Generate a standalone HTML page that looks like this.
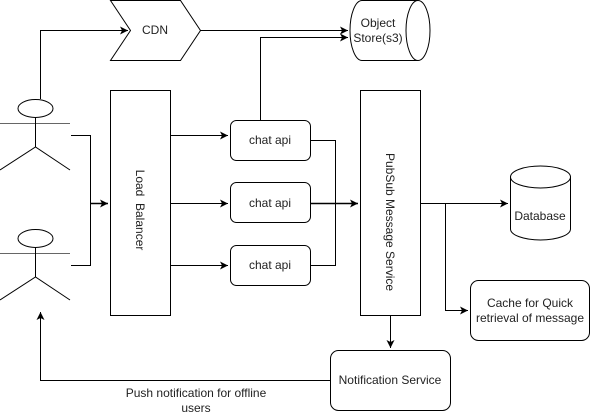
<!DOCTYPE html>
<html><head><meta charset="utf-8"><style>
html,body{margin:0;padding:0;background:#fff}
svg{display:block}
text{font-family:"Liberation Sans",Arial,sans-serif;font-size:12px;fill:#222}
</style></head><body>
<svg width="591" height="415" viewBox="0 0 591 415" xmlns="http://www.w3.org/2000/svg">
<defs><marker id="a" markerWidth="10" markerHeight="10" refX="8" refY="4" orient="auto" markerUnits="userSpaceOnUse"><path d="M0,0 L8,4 L0,8 L2,4 Z" fill="#000"/></marker></defs>
<g fill="none" stroke="#000" stroke-width="1">
<!-- CDN -->
<polygon points="110.5,0.5 180.5,0.5 200.5,30.5 180.5,60.5 110.5,60.5 130.5,30.5" fill="#fff"/>
<!-- object store -->
<path d="M362,0.5 L418,0.5 A12,30 0 0 1 418,60.5 L362,60.5 A12,30 0 0 1 362,0.5 Z" fill="#fff"/>
<path d="M418,0.5 A12,30 0 0 0 418,60.5"/>
<!-- actors -->
<ellipse cx="35.5" cy="108.5" rx="17.5" ry="9"/>
<line x1="0" y1="123.5" x2="70" y2="123.5" stroke="#666"/>
<line x1="35.5" y1="117.5" x2="35.5" y2="147"/>
<path d="M0,170 L35.5,147 L70,170"/>
<ellipse cx="35.5" cy="238.5" rx="17.5" ry="9"/>
<line x1="0" y1="253.5" x2="70" y2="253.5" stroke="#666"/>
<line x1="35.5" y1="247.5" x2="35.5" y2="277"/>
<path d="M0,300 L35.5,277 L70,300"/>
<!-- actor to CDN -->
<path d="M40.5,99 L40.5,30.5 L128,30.5" marker-end="url(#a)"/>
<!-- actors to LB -->
<path d="M71,135.5 L90.5,135.5 L90.5,265.5 L71,265.5"/>
<path d="M90.5,203.5 L108,203.5" marker-end="url(#a)" stroke-width="1.5"/>
<rect x="110.5" y="90.5" width="60" height="225" fill="#fff"/>
<!-- LB to chat -->
<path d="M170.5,135.5 L228,135.5" marker-end="url(#a)"/>
<path d="M170.5,203.5 L228,203.5" marker-end="url(#a)"/>
<path d="M170.5,265.5 L228,265.5" marker-end="url(#a)"/>
<rect x="230.5" y="120.5" width="80" height="40" rx="6" fill="#fff"/>
<rect x="230.5" y="182.5" width="80" height="40" rx="6" fill="#fff"/>
<rect x="230.5" y="245.5" width="80" height="40" rx="6" fill="#fff"/>
<!-- CDN/chat to store -->
<path d="M200.5,30.5 L348,30.5" marker-end="url(#a)"/>
<path d="M260.5,120 L260.5,37.5 L348,37.5" marker-end="url(#a)"/>
<!-- chat to pubsub -->
<path d="M310.5,140.5 L335.5,140.5 L335.5,265.5 L310.5,265.5"/>
<path d="M310.5,203.5 L358,203.5" marker-end="url(#a)" stroke-width="1.5"/>
<rect x="360.5" y="90.5" width="60" height="225" fill="#fff"/>
<!-- pubsub to db/cache -->
<path d="M420.5,203.5 L508,203.5" marker-end="url(#a)"/>
<path d="M445.5,203.5 L445.5,310.5 L468,310.5" marker-end="url(#a)"/>
<path d="M510.5,177 A30,11 0 0 1 570.5,177 L570.5,229 A30,11 0 0 1 510.5,229 Z" fill="#fff"/>
<path d="M510.5,177 A30,11 0 0 0 570.5,177"/>
<rect x="470.5" y="280.5" width="119" height="60" rx="8" fill="#fff"/>
<!-- pubsub to notification -->
<path d="M390.5,315.5 L390.5,348" marker-end="url(#a)"/>
<rect x="330.5" y="350.5" width="120" height="60" rx="8" fill="#fff"/>
<path d="M330.5,380.5 L40.5,380.5 L40.5,312" marker-end="url(#a)"/>
</g>
<text x="155" y="34" text-anchor="middle">CDN</text>
<text x="378" y="27" text-anchor="middle">Object</text>
<text x="378" y="42" text-anchor="middle">Store(s3)</text>
<text x="270" y="144" text-anchor="middle">chat api</text>
<text x="270" y="207" text-anchor="middle">chat api</text>
<text x="270" y="269" text-anchor="middle">chat api</text>
<text transform="translate(136,210) rotate(90)" text-anchor="middle" xml:space="preserve">Load  Balancer</text>
<text transform="translate(386,222) rotate(90)" text-anchor="middle">PubSub Message Service</text>
<text x="540" y="220" text-anchor="middle">Database</text>
<text x="530" y="307" text-anchor="middle">Cache for Quick</text>
<text x="530" y="322" text-anchor="middle">retrieval of message</text>
<text x="390" y="384" text-anchor="middle">Notification Service</text>
<text x="196" y="397" text-anchor="middle">Push notification for offline</text>
<text x="196" y="412" text-anchor="middle">users</text>
</svg>
</body></html>
